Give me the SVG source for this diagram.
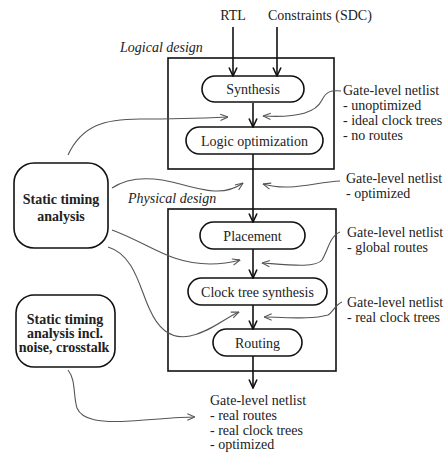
<svg xmlns="http://www.w3.org/2000/svg" width="445" height="454" viewBox="0 0 445 454">
<defs>
<style>
text{font-family:"Liberation Serif","Times New Roman",serif;font-size:14px;fill:#222}
.c{text-anchor:middle}
.b{font-weight:bold}
.i{font-style:italic}
.pill{fill:#fff;stroke:#111;stroke-width:1.6}
.box{fill:none;stroke:#111;stroke-width:1.6}
.main{fill:none;stroke:#111;stroke-width:1.6;marker-end:url(#ab)}
.cv{fill:none;stroke:#555;stroke-width:1.1;marker-end:url(#ag)}
</style>
<marker id="ab" viewBox="0 0 10 10" refX="9.5" refY="5" markerUnits="userSpaceOnUse" markerWidth="10" markerHeight="10" orient="auto">
<path d="M1,1 L9.5,5 L1,9" fill="none" stroke="#111" stroke-width="1.6"/>
</marker>
<marker id="ag" viewBox="0 0 10 10" refX="9.5" refY="5" markerUnits="userSpaceOnUse" markerWidth="9" markerHeight="9" orient="auto">
<path d="M1,1.5 L9.5,5 L1,8.5" fill="none" stroke="#555" stroke-width="1.2"/>
</marker>
</defs>
<rect width="445" height="454" fill="#fff"/>

<g id="logical-design">
<rect class="box" x="168" y="58" width="166" height="111"/>
<text class="i" x="120" y="52">Logical design</text>
</g>
<g id="physical-design">
<rect class="box" x="168" y="209" width="168" height="162"/>
<text class="i" x="128" y="203">Physical design</text>
</g>

<g id="rtl"><text class="c" x="233" y="20">RTL</text></g>
<g id="constraints"><text x="268" y="20">Constraints (SDC)</text></g>

<g id="synthesis">
<rect class="pill" x="202" y="76" width="102" height="26" rx="13"/>
<text class="c" x="253" y="94">Synthesis</text>
</g>
<g id="logic-optimization">
<rect class="pill" x="186" y="127" width="137" height="27" rx="13.5"/>
<text class="c" x="254.5" y="145.5">Logic optimization</text>
</g>
<g id="placement">
<rect class="pill" x="200" y="222" width="105" height="27" rx="13.5"/>
<text class="c" x="252.5" y="240.5">Placement</text>
</g>
<g id="clock-tree-synthesis">
<rect class="pill" x="188" y="278" width="139" height="27" rx="13.5"/>
<text class="c" x="257.5" y="296.5">Clock tree synthesis</text>
</g>
<g id="routing">
<rect class="pill" x="213" y="329" width="89" height="27" rx="13.5"/>
<text class="c" x="257.5" y="347.5">Routing</text>
</g>

<g id="sta">
<rect x="14" y="163" width="94" height="85" rx="20" fill="#fff" stroke="#111" stroke-width="1.6"/>
<text class="c b" x="61" y="204">Static timing</text>
<text class="c b" x="61" y="221">analysis</text>
</g>
<g id="sta-si">
<rect x="16" y="295" width="99" height="72" rx="18" fill="#fff" stroke="#111" stroke-width="1.6"/>
<text class="c b" x="65" y="324">Static timing</text>
<text class="c b" x="65" y="338">analysis incl.</text>
<text class="c b" x="64" y="352">noise, crosstalk</text>
</g>

<g id="netlist-1">
<text x="343" y="95">Gate-level netlist</text>
<text x="343" y="110">- unoptimized</text>
<text x="343" y="125">- ideal clock trees</text>
<text x="343" y="140">- no routes</text>
</g>
<g id="netlist-2">
<text x="346" y="183">Gate-level netlist</text>
<text x="346" y="198">- optimized</text>
</g>
<g id="netlist-3">
<text x="347" y="237">Gate-level netlist</text>
<text x="347" y="252">- global routes</text>
</g>
<g id="netlist-4">
<text x="347" y="307">Gate-level netlist</text>
<text x="347" y="322">- real clock trees</text>
</g>
<g id="netlist-out">
<text x="210" y="405">Gate-level netlist</text>
<text x="210" y="420">- real routes</text>
<text x="210" y="435">- real clock trees</text>
<text x="210" y="449">- optimized</text>
</g>

<g id="connectors">
<path class="main" d="M233,27 V76"/>
<path class="main" d="M277,27 V76"/>
<path class="main" d="M253,103 V127"/>
<path class="main" d="M253,154 V222"/>
<path class="main" d="M253,249 V278"/>
<path class="main" d="M253,305 V329"/>
<path class="main" d="M253,356 V388"/>

<path class="cv" d="M68,155 C82,125 105,119 140,119 C180,119 205,118 228,117"/>
<path class="cv" d="M341,91 C330,90 326,92 322,100 C316,112 300,118 263,116"/>
<path class="cv" d="M112,188 C130,176 155,177 180,184 C205,191 225,196 243,183"/>
<path class="cv" d="M340,181 C315,182 290,192 263,184"/>
<path class="cv" d="M112,230 C150,244 170,264 210,264 C225,264 233,262 240,260"/>
<path class="cv" d="M340,232 C330,236 328,250 322,260 C316,268 290,265 262,263"/>
<path class="cv" d="M108,247 C135,255 140,290 150,310 C158,328 170,340 190,336 C210,332 225,318 239,312"/>
<path class="cv" d="M342,302 C335,305 333,312 328,315 C310,320 285,317 264,317"/>
<path class="cv" d="M68,370 C76,380 73,395 77,408 C82,420 100,423 130,421 C160,419 180,417 195,417"/>
</g>
</svg>
